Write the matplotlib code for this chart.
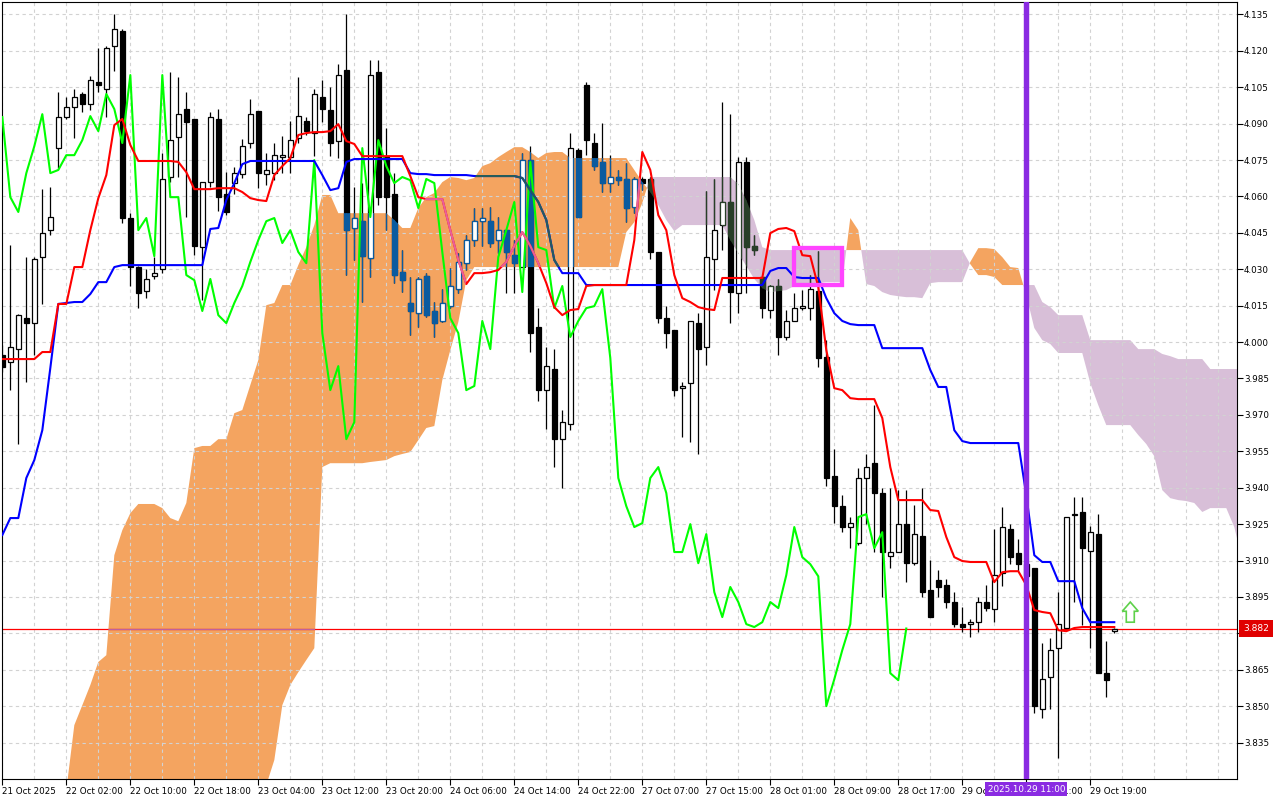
import numpy as np
import matplotlib
matplotlib.use("Agg")
import matplotlib.pyplot as plt
from matplotlib.path import Path
from matplotlib.patches import Rectangle, Polygon

plt.rcParams['font.family'] = ['DejaVu Sans']

# H1 candles, one entry per bar (bar 0 = first visible bar, 21 Oct 2025)
opens = [
    3.9946, 3.9918, 3.9971, 4.0099, 4.0078, 4.0350, 4.0461, 4.0799, 4.0927, 4.0968,
    4.1022, 4.0981, 4.1071, 4.1042, 4.1219, 4.1281, 4.0511, 4.0309, 4.0210, 4.0272,
    4.0301, 4.0680, 4.0845, 4.0960, 4.0919, 4.0391, 4.0659, 4.0919, 4.0610, 4.0655,
    4.0692, 4.0820, 4.0952, 4.0692, 4.0696, 4.0762, 4.0762, 4.0840, 4.0911, 4.0861,
    4.1009, 4.0956, 4.0828, 4.1121, 4.0470, 4.0498, 4.0346, 4.1112, 4.0762, 4.0610,
    4.0288, 4.0161, 4.0119, 4.0272, 4.0128, 4.0087, 4.0148, 4.0218, 4.0325, 4.0420,
    4.0498, 4.0498, 4.0420, 4.0461, 4.0358, 4.0309, 4.0750, 4.0062, 3.9802, 3.9889,
    3.9600, 3.9662, 4.0791, 4.1059, 4.0820, 4.0742, 4.0655, 4.0680, 4.0672, 4.0556,
    4.0672, 4.0672, 4.0371, 4.0099, 4.0049, 3.9810, 3.9831, 4.0078, 3.9979, 4.0342,
    4.0482, 4.0577, 4.0202, 4.0742, 4.0396, 4.0268, 4.0132, 4.0231, 4.0021, 4.0087,
    4.0140, 4.0140, 4.0210, 3.9938, 3.9448, 3.9324, 3.9238, 3.9172, 3.9440, 3.9501,
    3.9378, 3.9118, 3.9135, 3.9250, 3.9089, 3.9201, 3.8978, 3.9019, 3.8999, 3.8929,
    3.8838, 3.8838, 3.8846, 3.8929, 3.8900, 3.9048, 3.9229, 3.9131, 3.9085, 3.9069,
    3.8488, 3.8620, 3.8739, 3.8822, 3.9287, 3.9300, 3.9139, 3.9209, 3.8636, 3.8809,
]
highs = [
    3.9988, 4.0400, 4.0115, 4.0350, 4.0350, 4.0630, 4.0638, 4.1030, 4.1009, 4.1042,
    4.1030, 4.1096, 4.1211, 4.1219, 4.1351, 4.1290, 4.0531, 4.0313, 4.0301, 4.0350,
    4.0779, 4.1112, 4.1092, 4.1030, 4.0919, 4.0659, 4.0948, 4.0960, 4.0700, 4.0721,
    4.0836, 4.1001, 4.0952, 4.0779, 4.0820, 4.0849, 4.0911, 4.1092, 4.0927, 4.1042,
    4.1079, 4.1051, 4.1145, 4.1351, 4.0638, 4.0655, 4.1162, 4.1162, 4.0882, 4.0696,
    4.0379, 4.0268, 4.0268, 4.0284, 4.0165, 4.0218, 4.0305, 4.0367, 4.0441, 4.0552,
    4.0552, 4.0556, 4.0515, 4.0461, 4.0420, 4.0779, 4.0807, 4.0140, 3.9979, 3.9971,
    3.9720, 4.0861, 4.0799, 4.1071, 4.0861, 4.0902, 4.0770, 4.0709, 4.0738, 4.0680,
    4.0680, 4.0680, 4.0371, 4.0148, 4.0049, 3.9835, 4.0087, 4.0119, 4.0622, 4.0671,
    4.0989, 4.0939, 4.0762, 4.0762, 4.0441, 4.0268, 4.0235, 4.0260, 4.0132, 4.0202,
    4.0214, 4.0276, 4.0375, 4.0008, 3.9559, 3.9370, 3.9279, 3.9481, 3.9538, 3.9740,
    3.9398, 3.9398, 3.9390, 3.9390, 3.9328, 3.9398, 3.9102, 3.9061, 3.9024, 3.8970,
    3.8908, 3.8859, 3.8949, 3.8999, 3.9229, 3.9320, 3.9250, 3.9188, 3.9150, 3.9069,
    3.8760, 3.8780, 3.8970, 3.9279, 3.9361, 3.9361, 3.9242, 3.9291, 3.8768, 3.8822,
]
lows = [
    3.9876, 3.9802, 3.9580, 3.9835, 3.9946, 4.0157, 4.0441, 4.0717, 4.0919, 4.0840,
    4.0948, 4.0956, 4.1030, 4.0927, 4.1117, 4.0490, 4.0231, 4.0140, 4.0181, 4.0260,
    4.0284, 4.0659, 4.0680, 4.0515, 4.0358, 4.0173, 4.0638, 4.0540, 4.0523, 4.0610,
    4.0676, 4.0799, 4.0634, 4.0647, 4.0667, 4.0696, 4.0696, 4.0820, 4.0853, 4.0766,
    4.0906, 4.0766, 4.0758, 4.0276, 4.0338, 4.0165, 4.0268, 4.0564, 4.0461, 4.0243,
    4.0206, 4.0029, 4.0062, 4.0103, 4.0021, 4.0082, 4.0140, 4.0202, 4.0297, 4.0396,
    4.0396, 4.0391, 4.0367, 4.0202, 4.0202, 4.0309, 3.9959, 3.9757, 3.9642, 3.9485,
    3.9398, 3.9637, 4.0515, 4.0770, 4.0709, 4.0618, 4.0618, 4.0647, 4.0494, 4.0531,
    4.0626, 4.0342, 4.0078, 3.9975, 3.9777, 3.9609, 3.9588, 3.9538, 3.9905, 4.0214,
    4.0379, 4.0078, 4.0119, 4.0202, 4.0358, 4.0099, 4.0099, 3.9946, 4.0008, 4.0087,
    4.0132, 4.0091, 3.9897, 3.9407, 3.9254, 3.9217, 3.9151, 3.9164, 3.9250, 3.9135,
    3.8949, 3.9069, 3.9135, 3.9011, 3.9081, 3.8949, 3.8867, 3.8949, 3.8904, 3.8826,
    3.8805, 3.8785, 3.8805, 3.8892, 3.8846, 3.8995, 3.9085, 3.9056, 3.9020, 3.8471,
    3.8451, 3.8488, 3.8286, 3.8822, 3.8929, 3.8834, 3.8739, 3.8636, 3.8537, 3.8801,
]
closes = [
    3.9897, 3.9979, 4.0111, 4.0078, 4.0342, 4.0449, 4.0515, 4.0927, 4.0968, 4.1009,
    4.0981, 4.1079, 4.1059, 4.1211, 4.1290, 4.0511, 4.0309, 4.0202, 4.0260, 4.0284,
    4.0672, 4.0832, 4.0939, 4.0906, 4.0396, 4.0659, 4.0927, 4.0597, 4.0536, 4.0696,
    4.0807, 4.0939, 4.0696, 4.0709, 4.0770, 4.0770, 4.0832, 4.0931, 4.0869, 4.1022,
    4.0960, 4.0820, 4.1100, 4.0461, 4.0511, 4.0354, 4.1100, 4.0597, 4.0597, 4.0276,
    4.0255, 4.0128, 4.0260, 4.0111, 4.0078, 4.0161, 4.0231, 4.0330, 4.0420, 4.0498,
    4.0511, 4.0408, 4.0461, 4.0371, 4.0325, 4.0750, 4.0037, 3.9802, 3.9901, 3.9600,
    3.9670, 4.0799, 4.0515, 4.0832, 4.0725, 4.0655, 4.0680, 4.0667, 4.0552, 4.0672,
    4.0655, 4.0371, 4.0099, 4.0037, 3.9802, 3.9819, 4.0087, 3.9971, 4.0350, 4.0461,
    4.0577, 4.0206, 4.0742, 4.0391, 4.0379, 4.0140, 4.0231, 4.0021, 4.0087, 4.0140,
    4.0148, 4.0218, 3.9934, 3.9440, 3.9324, 3.9238, 3.9254, 3.9440, 3.9485, 3.9378,
    3.9135, 3.9135, 3.9250, 3.9089, 3.9209, 3.8970, 3.8867, 3.8991, 3.8929, 3.8838,
    3.8826, 3.8846, 3.8929, 3.8904, 3.9040, 3.9238, 3.9114, 3.9085, 3.9035, 3.8500,
    3.8611, 3.8731, 3.8838, 3.9279, 3.9291, 3.9151, 3.9217, 3.8636, 3.8607, 3.8820,
]

# Ichimoku lines
tenkan = [
    3.9930, 3.9930, 3.9930, 3.9930, 3.9930, 3.9959, 3.9959, 4.0157, 4.0157, 4.0309,
    4.0309, 4.0461, 4.0593, 4.0688, 4.0894, 4.0919, 4.0812, 4.0746, 4.0746, 4.0746,
    4.0746, 4.0746, 4.0742, 4.0700, 4.0630, 4.0630, 4.0630, 4.0634, 4.0634, 4.0634,
    4.0618, 4.0593, 4.0585, 4.0581, 4.0688, 4.0725, 4.0758, 4.0853, 4.0861, 4.0865,
    4.0865, 4.0869, 4.0898, 4.0828, 4.0816, 4.0766, 4.0766, 4.0766, 4.0766, 4.0766,
    4.0766, 4.0684, 4.0597, 4.0589, 4.0589, 4.0589, 4.0461, 4.0338, 4.0239, 4.0284,
    4.0284, 4.0288, 4.0297, 4.0330, 4.0396, 4.0453, 4.0396, 4.0325, 4.0243, 4.0144,
    4.0111, 4.0132, 4.0136, 4.0231, 4.0235, 4.0235, 4.0235, 4.0235, 4.0235, 4.0420,
    4.0783, 4.0709, 4.0523, 4.0461, 4.0276, 4.0181, 4.0165, 4.0144, 4.0136, 4.0132,
    4.0264, 4.0264, 4.0264, 4.0264, 4.0264, 4.0264, 4.0449, 4.0466, 4.0470, 4.0457,
    4.0358, 4.0354, 4.0227, 3.9967, 3.9810, 3.9802, 3.9769, 3.9765, 3.9765, 3.9765,
    3.9687, 3.9485, 3.9349, 3.9349, 3.9349, 3.9349, 3.9308, 3.9304, 3.9197, 3.9114,
    3.9098, 3.9094, 3.9094, 3.9094, 3.9011, 3.9052, 3.9056, 3.9056, 3.8999, 3.8896,
    3.8888, 3.8883, 3.8813, 3.8809, 3.8822, 3.8826, 3.8826, 3.8826, 3.8826, 3.8826,
]
kijun = [
    3.9205, 3.9275, 3.9275, 3.9440, 3.9514, 3.9637, 3.9893, 4.0157, 4.0161, 4.0165,
    4.0165, 4.0198, 4.0247, 4.0247, 4.0309, 4.0317, 4.0317, 4.0317, 4.0317, 4.0317,
    4.0317, 4.0317, 4.0317, 4.0317, 4.0317, 4.0317, 4.0466, 4.0470, 4.0585, 4.0655,
    4.0733, 4.0746, 4.0746, 4.0746, 4.0746, 4.0746, 4.0746, 4.0746, 4.0746, 4.0746,
    4.0688, 4.0626, 4.0634, 4.0742, 4.0754, 4.0754, 4.0754, 4.0754, 4.0754, 4.0754,
    4.0754, 4.0696, 4.0692, 4.0692, 4.0688, 4.0688, 4.0688, 4.0688, 4.0688, 4.0684,
    4.0684, 4.0684, 4.0684, 4.0684, 4.0684, 4.0676, 4.0626, 4.0577, 4.0503, 4.0338,
    4.0284, 4.0284, 4.0284, 4.0235, 4.0235, 4.0235, 4.0235, 4.0235, 4.0235, 4.0235,
    4.0235, 4.0235, 4.0235, 4.0235, 4.0235, 4.0235, 4.0235, 4.0235, 4.0235, 4.0235,
    4.0235, 4.0235, 4.0235, 4.0235, 4.0235, 4.0235, 4.0293, 4.0305, 4.0305, 4.0268,
    4.0264, 4.0264, 4.0264, 4.0181, 4.0119, 4.0087, 4.0074, 4.0070, 4.0070, 4.0070,
    3.9975, 3.9975, 3.9975, 3.9975, 3.9975, 3.9975, 3.9885, 3.9815, 3.9815, 3.9637,
    3.9592, 3.9584, 3.9584, 3.9584, 3.9584, 3.9584, 3.9584, 3.9584, 3.9370, 3.9122,
    3.9094, 3.9094, 3.9015, 3.9015, 3.9015, 3.8904, 3.8846, 3.8846, 3.8846, 3.8846,
]
# cloud edges (already drawn 26 bars ahead), nan = not on the chart
nan = float('nan')
span_a = [
    nan, nan, nan, nan, nan, nan, nan, nan, 3.8154, 3.8422,
    3.8504, 3.8587, 3.8682, 3.8710, 3.9122, 3.9225, 3.9295, 3.9333, 3.9333, 3.9333,
    3.9316, 3.9275, 3.9262, 3.9337, 3.9563, 3.9572, 3.9572, 3.9600, 3.9600, 3.9707,
    3.9720, 3.9823, 3.9926, 4.0152, 4.0161, 4.0235, 4.0235, 4.0317, 4.0391, 4.0482,
    4.0606, 4.0606, 4.0531, 4.0531, 4.0531, 4.0531, 4.0531, 4.0531, 4.0531, 4.0503,
    4.0470, 4.0470, 4.0552, 4.0597, 4.0614, 4.0659, 4.0680, 4.0676, 4.0667, 4.0676,
    4.0725, 4.0737, 4.0762, 4.0783, 4.0803, 4.0803, 4.0783, 4.0758, 4.0779, 4.0783,
    4.0783, 4.0758, 4.0758, 4.0758, 4.0758, 4.0758, 4.0758, 4.0758, 4.0758, 4.0709,
    4.0659, 4.0618, 4.0564, 4.0503, 4.0457, 4.0482, 4.0482, 4.0482, 4.0482, 4.0482,
    4.0482, 4.0420, 4.0367, 4.0313, 4.0260, 4.0222, 4.0206, 4.0210, 4.0214, 4.0231,
    4.0239, 4.0239, 4.0243, 4.0247, 4.0247, 4.0247, 4.0511, 4.0461, 4.0239, 4.0231,
    4.0206, 4.0194, 4.0189, 4.0185, 4.0185, 4.0181, 4.0243, 4.0247, 4.0247, 4.0247,
    4.0247, 4.0330, 4.0387, 4.0387, 4.0383, 4.0350, 4.0309, 4.0305, 4.0194, 4.0058,
    4.0008, 3.9992, 3.9955, 3.9955, 3.9955, 3.9955, 3.9831, 3.9740, 3.9658, 3.9658,
    3.9658, 3.9658, 3.9617, 3.9580, 3.9530, 3.9390, 3.9357, 3.9349, 3.9345, 3.9337,
    3.9300, 3.9316, 3.9316, 3.9316, 3.9238, 3.9102,
]
span_b = [
    nan, nan, nan, nan, nan, nan, nan, nan, 3.8110, 3.8110,
    3.8110, 3.8110, 3.8110, 3.8110, 3.8110, 3.8110, 3.8110, 3.8110, 3.8110, 3.8110,
    3.8110, 3.8110, 3.8110, 3.8110, 3.8110, 3.8110, 3.8110, 3.8110, 3.8110, 3.8110,
    3.8110, 3.8110, 3.8110, 3.8175, 3.8278, 3.8504, 3.8587, 3.8640, 3.8690, 3.8739,
    3.9485, 3.9501, 3.9501, 3.9501, 3.9501, 3.9501, 3.9506, 3.9510, 3.9514, 3.9530,
    3.9539, 3.9547, 3.9596, 3.9646, 3.9654, 3.9843, 3.9967, 4.0082, 4.0255, 4.0309,
    4.0309, 4.0309, 4.0309, 4.0309, 4.0309, 4.0309, 4.0309, 4.0309, 4.0309, 4.0309,
    4.0309, 4.0309, 4.0309, 4.0309, 4.0309, 4.0309, 4.0309, 4.0309, 4.0453, 4.0494,
    4.0573, 4.0680, 4.0680, 4.0680, 4.0680, 4.0680, 4.0680, 4.0680, 4.0680, 4.0680,
    4.0680, 4.0680, 4.0651, 4.0585, 4.0503, 4.0391, 4.0379, 4.0379, 4.0379, 4.0379,
    4.0379, 4.0379, 4.0379, 4.0379, 4.0379, 4.0379, 4.0379, 4.0379, 4.0379, 4.0379,
    4.0379, 4.0379, 4.0379, 4.0379, 4.0379, 4.0379, 4.0379, 4.0379, 4.0379, 4.0379,
    4.0379, 4.0321, 4.0276, 4.0276, 4.0268, 4.0235, 4.0235, 4.0235, 4.0235, 4.0235,
    4.0165, 4.0144, 4.0111, 4.0111, 4.0111, 4.0111, 4.0008, 4.0008, 4.0008, 4.0008,
    4.0008, 4.0008, 3.9971, 3.9971, 3.9971, 3.9951, 3.9942, 3.9930, 3.9930, 3.9930,
    3.9930, 3.9889, 3.9889, 3.9889, 3.9889, 3.9889,
]

time_labels = ["21 Oct 2025", "22 Oct 02:00", "22 Oct 10:00", "22 Oct 18:00",
               "23 Oct 04:00", "23 Oct 12:00", "23 Oct 20:00", "24 Oct 06:00",
               "24 Oct 14:00", "24 Oct 22:00", "27 Oct 07:00", "27 Oct 15:00",
               "28 Oct 01:00", "28 Oct 09:00", "28 Oct 17:00", "29 Oct 03:00",
               "29 Oct 11:00", "29 Oct 19:00"]
label_step = 8
chikou_shift = 26
last_price = 3.882
marked_bar = 128
marked_time = "2025.10.29 11:00"
box_bars = (99.0, 105.0)
box_prices = (4.0235, 4.0387)
signal_bar = 141
signal_price = 3.8846

bars = np.arange(len(closes))
o = np.array(opens)
c = np.array(closes)
up = c >= o

fig = plt.figure(figsize=(12.8, 8), dpi=100)
ax = fig.add_axes([2 / 1280, 21 / 800, 1235 / 1280, 777 / 800])
ax.set_xlim(-0.04, 154.34)
ax.set_ylim(3.8200, 4.1401)

yt = np.round(np.arange(3.835, 4.1351, 0.015), 3)
ax.set_yticks(yt)
ax.set_yticklabels([f"{v:.3f}" for v in yt])
xt = np.arange(len(time_labels)) * label_step
ax.set_xticks(xt)
ax.set_xticklabels(time_labels, ha='left')
ax.yaxis.tick_right()
ax.tick_params(axis='y', length=4, width=0.8, pad=1, labelsize=6.3)
ax.tick_params(axis='x', length=4, width=0.8, pad=2, labelsize=6.3)
for s in ax.spines.values():
    s.set_linewidth(0.8)

# grid (drawn above the cloud, below candles)
for gx in np.arange(0, 156, 4):
    ax.axvline(gx, color='#d2d2d2', lw=0.8, dashes=(3, 3), zorder=1.5)
for gy in yt:
    ax.axhline(gy, color='#d2d2d2', lw=0.8, dashes=(3, 3), zorder=1.5)

# cloud
cx = np.arange(len(span_a))
sa = np.array(span_a)
sb = np.array(span_b)
with np.errstate(invalid='ignore'):
    up_cloud = ax.fill_between(cx, sb, sa, where=sa >= sb, interpolate=True,
                               color='#f4a460', linewidth=0, zorder=1)
    dn_cloud = ax.fill_between(cx, sa, sb, where=sb >= sa, interpolate=True,
                               color='#d8bfd8', linewidth=0, zorder=1)
orange_clip = Path.make_compound_path(*up_cloud.get_paths())
purple_clip = Path.make_compound_path(*dn_cloud.get_paths())


def draw_candles(dark, z, clip=None):
    parts = [ax.vlines(bars, lows, highs, colors=dark, linewidth=0.9, zorder=z)]
    face = ['white' if u else dark for u in up]
    body = ax.bar(bars, np.abs(c - o), bottom=np.minimum(o, c), width=0.62,
                  color=face, edgecolor=dark, linewidth=0.9, zorder=z + 0.1)
    parts += list(body)
    if clip is not None:
        for p in parts:
            p.set_clip_path(clip, ax.transData)


draw_candles('black', 3)
draw_candles('#0b5b9f', 3.3, orange_clip)
draw_candles('#283f28', 3.3, purple_clip)

ax.axhline(last_price, color='#ff0000', lw=0.9, zorder=2.5)
pl = ax.axhline(last_price, color='#c0609c', lw=0.9, zorder=2.6)
pl.set_clip_path(orange_clip, ax.transData)

# chikou, tenkan, kijun
ax.plot(bars[:len(closes) - chikou_shift], closes[chikou_shift:], color='#00ff00', lw=1.5, zorder=5)
ax.plot(bars, tenkan, color='#ff0000', lw=1.5, zorder=5.2)
ax.plot(bars, kijun, color='#0000ff', lw=1.5, zorder=5.1)
t2, = ax.plot(bars, tenkan, color='#e8609a', lw=1.5, zorder=5.3)
k2, = ax.plot(bars, kijun, color='#245c5c', lw=1.5, zorder=5.25)
t2.set_clip_path(orange_clip, ax.transData)
k2.set_clip_path(orange_clip, ax.transData)

# highlighted cross
ax.add_patch(Rectangle((box_bars[0], box_prices[0]), box_bars[1] - box_bars[0],
                       box_prices[1] - box_prices[0], fill=False,
                       edgecolor='#ff44ff', lw=3.1, zorder=6))

# signal arrow
hw, sw, head = 1.0, 0.5, 0.0038
tip = signal_price + 0.0083
arrow = Polygon([(signal_bar, tip), (signal_bar + hw, tip - head), (signal_bar + sw, tip - head),
                 (signal_bar + sw, signal_price), (signal_bar - sw, signal_price),
                 (signal_bar - sw, tip - head), (signal_bar - hw, tip - head)],
                closed=True, facecolor='white', edgecolor='#5ed14a', lw=1.2, zorder=8)
ax.add_patch(arrow)

# current-bar marker
ax.axvline(marked_bar, color='#8a2be2', lw=3.9, zorder=7)
ax.annotate(marked_time, xy=(marked_bar, 0), xycoords=('data', 'axes fraction'),
            xytext=(0, -10), textcoords='offset pixels', ha='center', va='center',
            fontsize=6.3, color='white', zorder=10, annotation_clip=False,
            bbox=dict(boxstyle='square,pad=0.25', fc='#8a2be2', ec='none'))
ax.annotate(f"{last_price:.3f}", xy=(1, last_price), xycoords=('axes fraction', 'data'),
            xytext=(6, 0), textcoords='offset pixels', ha='left', va='center',
            fontsize=6.6, color='white', zorder=10, annotation_clip=False,
            bbox=dict(boxstyle='square,pad=0.4', fc='#e00000', ec='none'))

fig.savefig('out.png', dpi=100)
